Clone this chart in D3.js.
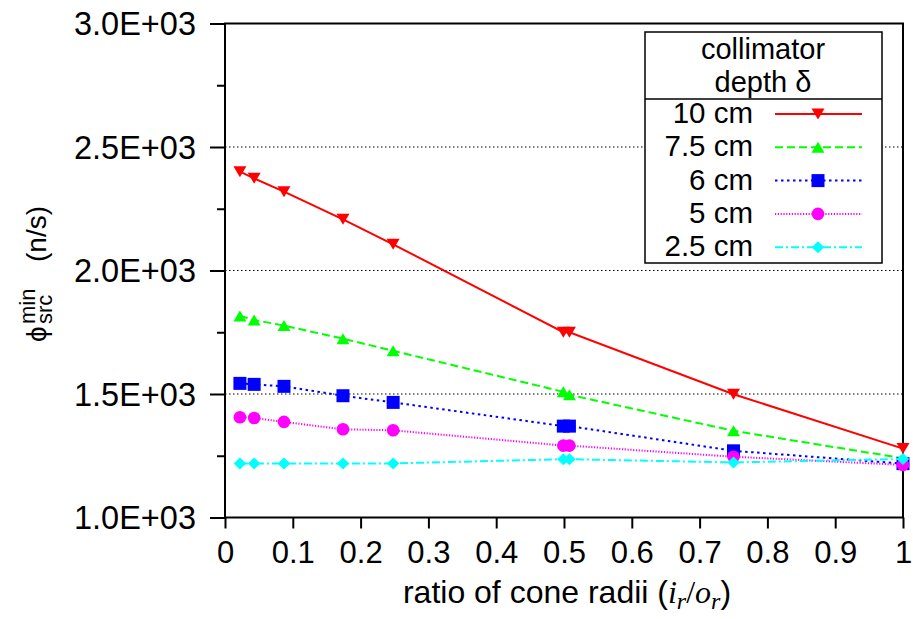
<!DOCTYPE html>
<html>
<head>
<meta charset="utf-8">
<script src="https://d3js.org/d3.v7.min.js"></script>
<style>
  body { margin: 0; background: #fff; }
  text { font-family: "Liberation Sans", Arial, sans-serif; fill: #000; }
</style>
</head>
<body>
<div id="chart"></div>
<script>

// Chart data
// ==============================
var ratios = [0.022, 0.043, 0.087, 0.174, 0.248, 0.499, 0.508, 0.75, 1.0];

var depth10 = [2400, 2373, 2319, 2207, 2106, 1750, 1750, 1499, 1279];
var depth75 = [1816, 1800, 1777, 1724, 1675, 1509, 1497, 1351, 1240];
var depth6 = [1543, 1539, 1531, 1493, 1466, 1370, 1370, 1270, 1218];
var depth5 = [1406, 1403, 1387, 1357, 1353, 1291, 1291, 1246, 1213];
var depth25 = [1219, 1219, 1219, 1219, 1219, 1236, 1236, 1223, 1237];

var seriesNames = ["10 cm", "7.5 cm", "6 cm", "5 cm", "2.5 cm"];

var xTicks = [0, 0.1, 0.2, 0.3, 0.4, 0.5, 0.6, 0.7, 0.8, 0.9, 1];
var xTickLabels = ["0", "0.1", "0.2", "0.3", "0.4", "0.5", "0.6", "0.7", "0.8", "0.9", "1"];
var yTicks = [1000, 1500, 2000, 2500, 3000];
var yTickLabels = ["1.0E+03", "1.5E+03", "2.0E+03", "2.5E+03", "3.0E+03"];
var yMinorTicks = [1250, 1750, 2250, 2750];

// Set chart parameters
// ==============================
var svgWidth = 913;
var svgHeight = 619;

var margin = {
  top: 23.5,
  right: 10,
  bottom: 101.5,
  left: 225
};

var width = svgWidth - margin.left - margin.right;
var height = svgHeight - margin.top - margin.bottom;

// series styles
var styles = [
  { color: "#ff0000", dash: null, marker: "triDown" },
  { color: "#00ff00", dash: "8,4", marker: "triUp" },
  { color: "#0000ff", dash: "2.5,3.5", marker: "square" },
  { color: "#ff00ff", dash: "1.2,1.6", marker: "circle" },
  { color: "#00ffff", dash: "8,3,2,3", marker: "diamond" }
];

var seriesValues = [depth10, depth75, depth6, depth5, depth25];

var series = seriesNames.map(function(name, i) {
  return {
    name: name,
    style: styles[i],
    points: ratios.map(function(r, j) { return { x: r, y: seriesValues[i][j] }; })
  };
});

function markerPath(kind) {
  if (kind === "triDown") return "M-6.5,-5.5L6.5,-5.5L0,5.5Z";
  if (kind === "triUp") return "M-6.5,5.5L6.5,5.5L0,-5.5Z";
  if (kind === "square") return "M-6.5,-6.5H6.5V6.5H-6.5Z";
  if (kind === "diamond") return "M0,-6L6.2,0L0,6L-6.2,0Z";
  return d3.symbol().type(d3.symbolCircle).size(Math.PI * 6.3 * 6.3)();
}

// Create SVG wrapper, append SVG group, shift margins
// ==============================
var svg = d3
  .select("#chart")
  .append("svg")
  .attr("width", svgWidth)
  .attr("height", svgHeight);

var chartGroup = svg.append("g")
  .attr("transform", `translate(${margin.left}, ${margin.top})`);

// Scales
// ==============================
var xLinearScale = d3.scaleLinear()
  .domain([0, 1])
  .range([0, width]);

var yLinearScale = d3.scaleLinear()
  .domain([1000, 3000])
  .range([height, 0]);

// Grid lines
// ==============================
chartGroup.selectAll(".grid")
  .data(yTicks.slice(1, -1))
  .enter()
  .append("line")
  .attr("x1", 0)
  .attr("x2", width)
  .attr("y1", d => yLinearScale(d))
  .attr("y2", d => yLinearScale(d))
  .attr("stroke", "#000")
  .attr("stroke-width", 1.2)
  .attr("stroke-dasharray", "1.5,2.5");

// Axes
// ==============================
var bottomAxis = d3.axisBottom(xLinearScale)
  .tickValues(xTicks)
  .tickSize(11)
  .tickFormat((d, i) => xTickLabels[i]);

var leftAxis = d3.axisLeft(yLinearScale)
  .tickValues(yTicks)
  .tickSize(15)
  .tickFormat((d, i) => yTickLabels[i]);

var minorAxis = d3.axisLeft(yLinearScale)
  .tickValues(yMinorTicks)
  .tickSize(8)
  .tickFormat("");

var xAxisG = chartGroup.append("g")
  .attr("transform", `translate(0, ${height})`)
  .call(bottomAxis);

var yAxisG = chartGroup.append("g")
  .call(leftAxis);

var yMinorG = chartGroup.append("g")
  .call(minorAxis);

[xAxisG, yAxisG, yMinorG].forEach(function(g) {
  g.select(".domain").remove();
  g.selectAll("line").attr("stroke", "#000").attr("stroke-width", 2);
});

xAxisG.selectAll("text")
  .attr("y", 45.5)
  .attr("dy", 0)
  .style("font-size", "31px")
  .style("font-family", "'Liberation Sans', Arial, sans-serif");

yAxisG.selectAll("text")
  .attr("x", -29)
  .attr("dy", "0.35em")
  .style("font-size", "32.5px")
  .style("font-family", "'Liberation Sans', Arial, sans-serif");

// Frame
// ==============================
chartGroup.append("rect")
  .attr("x", 0)
  .attr("y", 0)
  .attr("width", width)
  .attr("height", height)
  .attr("fill", "none")
  .attr("stroke", "#000")
  .attr("stroke-width", 2);

// Lines and markers
// ==============================
var lineGen = d3.line()
  .x(d => xLinearScale(d.x))
  .y(d => yLinearScale(d.y));

series.forEach(function(s) {
  chartGroup.append("path")
    .datum(s.points)
    .attr("d", lineGen)
    .attr("fill", "none")
    .attr("stroke", s.style.color)
    .attr("stroke-width", 2)
    .attr("stroke-dasharray", s.style.dash);

  chartGroup.selectAll(null)
    .data(s.points)
    .enter()
    .append("path")
    .attr("d", markerPath(s.style.marker))
    .attr("transform", d => `translate(${xLinearScale(d.x)}, ${yLinearScale(d.y)})`)
    .attr("fill", s.style.color);
});

// Legend
// ==============================
var legend = svg.append("g");

legend.append("rect")
  .attr("x", 645)
  .attr("y", 32)
  .attr("width", 237)
  .attr("height", 231)
  .attr("fill", "#fff")
  .attr("stroke", "#000")
  .attr("stroke-width", 1.5);

legend.append("line")
  .attr("x1", 645)
  .attr("x2", 882)
  .attr("y1", 99)
  .attr("y2", 99)
  .attr("stroke", "#000")
  .attr("stroke-width", 1.5);

legend.append("text")
  .attr("x", 763)
  .attr("y", 59)
  .attr("text-anchor", "middle")
  .style("font-size", "29px")
  .text("collimator");

legend.append("text")
  .attr("x", 763)
  .attr("y", 92)
  .attr("text-anchor", "middle")
  .style("font-size", "29px")
  .text("depth δ");

series.forEach(function(s, i) {
  var rowY = 123 + i * 33.3;
  var midY = rowY - 9;

  legend.append("text")
    .attr("x", 753)
    .attr("y", rowY)
    .attr("text-anchor", "end")
    .style("font-size", "29.5px")
    .text(s.name);

  legend.append("line")
    .attr("x1", 775)
    .attr("x2", 862)
    .attr("y1", midY)
    .attr("y2", midY)
    .attr("stroke", s.style.color)
    .attr("stroke-width", 2)
    .attr("stroke-dasharray", s.style.dash);

  legend.append("path")
    .attr("d", markerPath(s.style.marker))
    .attr("transform", `translate(818, ${midY})`)
    .attr("fill", s.style.color);
});

// Axis labels
// ==============================
var yLabel = svg.append("g")
  .attr("transform", "translate(46, 342) rotate(-90)");

yLabel.append("text")
  .attr("x", 0)
  .attr("y", 0)
  .style("font-size", "28px")
  .text("ϕ");

yLabel.append("text")
  .attr("x", 18)
  .attr("y", -11)
  .style("font-size", "22px")
  .text("min");

yLabel.append("text")
  .attr("x", 18)
  .attr("y", 6)
  .style("font-size", "22px")
  .text("src");

yLabel.append("text")
  .attr("x", 80)
  .attr("y", 0)
  .style("font-size", "28px")
  .text("(n/s)");

var xLabel = svg.append("text")
  .attr("x", 567)
  .attr("y", 603)
  .attr("text-anchor", "middle")
  .style("font-size", "32px");

xLabel.append("tspan").text("ratio of cone radii (");
xLabel.append("tspan")
  .style("font-family", "'Liberation Serif', serif")
  .style("font-style", "italic")
  .text("i");
xLabel.append("tspan")
  .attr("dy", 6)
  .style("font-family", "'Liberation Serif', serif")
  .style("font-style", "italic")
  .style("font-size", "24px")
  .text("r");
xLabel.append("tspan")
  .attr("dy", -6)
  .style("font-family", "'Liberation Serif', serif")
  .text("/");
xLabel.append("tspan")
  .style("font-family", "'Liberation Serif', serif")
  .style("font-style", "italic")
  .text("o");
xLabel.append("tspan")
  .attr("dy", 6)
  .style("font-family", "'Liberation Serif', serif")
  .style("font-style", "italic")
  .style("font-size", "24px")
  .text("r");
xLabel.append("tspan")
  .attr("dy", -6)
  .text(")");

</script>
</body>
</html>
